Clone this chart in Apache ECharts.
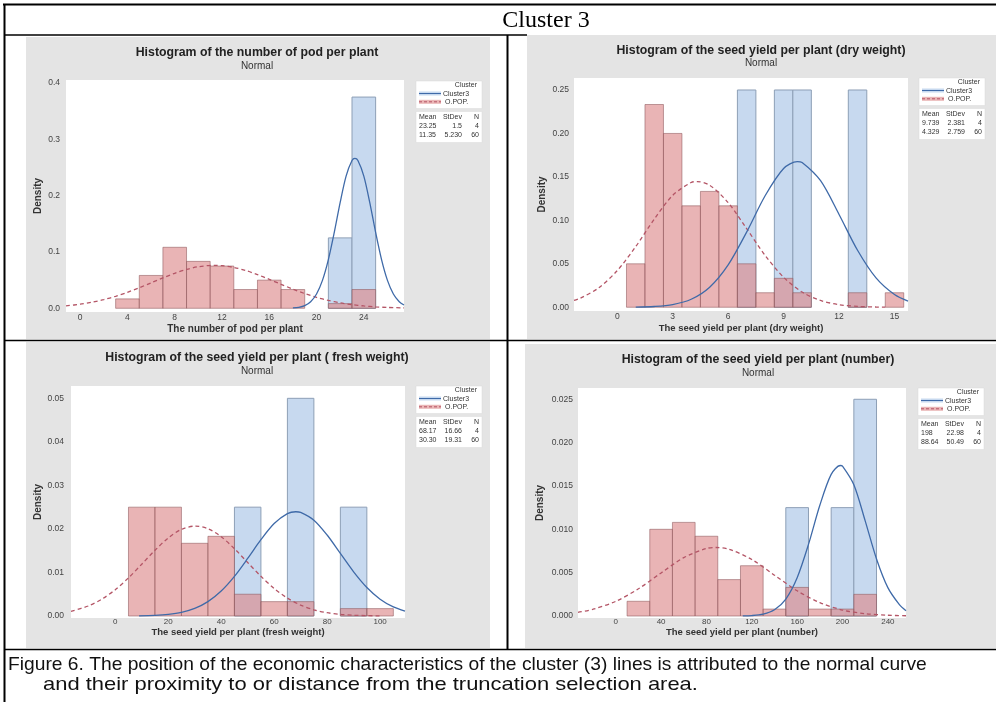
<!DOCTYPE html>
<html><head><meta charset="utf-8">
<script src="https://cdn.jsdelivr.net/npm/echarts@6/dist/echarts.min.js"></script>
<style>html,body{margin:0;padding:0;background:#fff}#c{width:996px;height:702px}</style>
</head><body><div id="c"></div>
<script>
// ---------- Panel 1: number of pod per plant ----------
const podBins = [4, 6, 8, 10, 12, 14, 16, 18, 20, 22, 24];
const podBinWidth = 2;
const podPop = [0.0167, 0.0583, 0.1083, 0.0833, 0.075, 0.0333, 0.05, 0.0333, 0, 0.0083, 0.0333];
const podCluster3 = [0, 0, 0, 0, 0, 0, 0, 0, 0, 0.125, 0.375];
const podPopCurveX = [-1.2, 0, 1, 2, 3, 4, 5, 6, 7, 8, 9, 10, 11.35, 12, 13, 14, 15, 16, 17, 18, 19, 20, 21, 22, 23, 24, 25, 26, 27.4];
const podPopCurveY = [0.0043, 0.0072, 0.0108, 0.0154, 0.0213, 0.0284, 0.0365, 0.0452, 0.054, 0.0621, 0.069, 0.0738, 0.0763, 0.0757, 0.0726, 0.0671, 0.0598, 0.0514, 0.0426, 0.034, 0.0262, 0.0194, 0.0139, 0.0096, 0.0064, 0.0041, 0.0025, 0.0015, 0.0007];
const podC3CurveX = [18, 18.5, 19, 19.5, 20, 20.5, 21, 21.5, 22, 22.5, 23, 23.25, 23.5, 24, 24.5, 25, 25.5, 26, 26.5, 27, 27.4];
const podC3CurveY = [0.0006, 0.0018, 0.0048, 0.0117, 0.0254, 0.0495, 0.0864, 0.1347, 0.188, 0.2347, 0.2623, 0.266, 0.2623, 0.2347, 0.188, 0.1347, 0.0864, 0.0495, 0.0254, 0.0117, 0.0058];
const podXTicks = [0, 4, 8, 12, 16, 20, 24];
const podYTicks = [0, 0.1, 0.2, 0.3, 0.4];
const podStats = [['23.25', '1.5', '4'], ['11.35', '5.230', '60']];

// ---------- Panel 2: seed yield per plant (dry weight) ----------
const dryBins = [1, 2, 3, 4, 5, 6, 7, 8, 9, 10, 11, 12, 13, 14, 15];
const dryBinWidth = 1;
const dryPop = [0.05, 0.2333, 0.2, 0.1167, 0.1333, 0.1167, 0.05, 0.0167, 0.0333, 0.0167, 0, 0, 0.0167, 0, 0.0167];
const dryCluster3 = [0, 0, 0, 0, 0, 0, 0.25, 0, 0.25, 0.25, 0, 0, 0.25, 0, 0];
const dryPopCurveX = [-2.34, -2, -1, 0, 1, 2, 3, 4, 4.33, 5, 6, 7, 8, 9, 10, 11, 12, 13, 14, 14.5];
const dryPopCurveY = [0.0078, 0.0104, 0.0224, 0.0422, 0.0698, 0.1013, 0.1288, 0.1436, 0.1446, 0.1404, 0.1204, 0.0905, 0.0597, 0.0345, 0.0175, 0.0078, 0.003, 0.001, 0.0003, 0.0002];
const dryC3CurveX = [1, 2, 3, 4, 5, 6, 7, 8, 9, 9.74, 10, 11, 12, 13, 14, 15, 15.73];
const dryC3CurveY = [0.0002, 0.0009, 0.0031, 0.0092, 0.0231, 0.0488, 0.0865, 0.1283, 0.1597, 0.1676, 0.1666, 0.1456, 0.1068, 0.0656, 0.0338, 0.0146, 0.0071];
const dryXTicks = [0, 3, 6, 9, 12, 15];
const dryYTicks = [0, 0.05, 0.10, 0.15, 0.20, 0.25];
const dryStats = [['9.739', '2.381', '4'], ['4.329', '2.759', '60']];

// ---------- Panel 3: seed yield per plant (fresh weight) ----------
const freshBins = [10, 20, 30, 40, 50, 60, 70, 80, 90, 100];
const freshBinWidth = 10;
const freshPop = [0.025, 0.025, 0.0167, 0.0183, 0.005, 0.0033, 0.0033, 0, 0.0017, 0.0017];
const freshCluster3 = [0, 0, 0, 0, 0.025, 0, 0.05, 0, 0.025, 0];
const freshPopCurveX = [-16.7, -10, -5, 0, 5, 10, 15, 20, 25, 30.3, 35, 40, 45, 50, 55, 60, 65, 70, 75, 80, 85, 90, 95, 100];
const freshPopCurveY = [0.00107, 0.00234, 0.00389, 0.00603, 0.00876, 0.01189, 0.01509, 0.01792, 0.0199, 0.02066, 0.02006, 0.01821, 0.01546, 0.01228, 0.00912, 0.00633, 0.00411, 0.0025, 0.00142, 0.00075, 0.00037, 0.00017, 0.00008, 0.00003];
const freshC3CurveX = [9, 15, 20, 25, 30, 35, 40, 45, 50, 55, 60, 65, 68.17, 70, 75, 80, 85, 90, 95, 100, 105, 109.4];
const freshC3CurveY = [0.00004, 0.00015, 0.00037, 0.00083, 0.00174, 0.0033, 0.00573, 0.0091, 0.01321, 0.01752, 0.02123, 0.02352, 0.02395, 0.0238, 0.02202, 0.01861, 0.01438, 0.01015, 0.00655, 0.00386, 0.00208, 0.00112];
const freshXTicks = [0, 20, 40, 60, 80, 100];
const freshYTicks = [0, 0.01, 0.02, 0.03, 0.04, 0.05];
const freshStats = [['68.17', '16.66', '4'], ['30.30', '19.31', '60']];

// ---------- Panel 4: seed yield per plant (number) ----------
const numBins = [20, 40, 60, 80, 100, 120, 140, 160, 180, 200, 220];
const numBinWidth = 20;
const numPop = [0.0017, 0.01, 0.0108, 0.0092, 0.0042, 0.0058, 0.0008, 0.0033, 0.0008, 0.0008, 0.0025];
const numCluster3 = [0, 0, 0, 0, 0, 0, 0, 0.0125, 0, 0.0125, 0.025];
const numPopCurveX = [-33.3, -20, 0, 20, 40, 60, 80, 88.64, 100, 120, 140, 160, 180, 200, 220, 240, 256];
const numPopCurveY = [0.00043, 0.00078, 0.00169, 0.00314, 0.00497, 0.00673, 0.00779, 0.0079, 0.0077, 0.00652, 0.00471, 0.00291, 0.00154, 0.00069, 0.00027, 0.00009, 0.00003];
const numC3CurveX = [112, 120, 130, 140, 150, 160, 170, 180, 190, 198, 200, 210, 220, 230, 240, 250, 256];
const numC3CurveY = [0.00002, 0.00005, 0.00022, 0.00072, 0.00196, 0.00442, 0.00826, 0.01277, 0.01634, 0.01736, 0.01729, 0.01515, 0.01098, 0.00658, 0.00327, 0.00134, 0.0006];
const numXTicks = [0, 40, 80, 120, 160, 200, 240];
const numYTicks = [0, 0.005, 0.010, 0.015, 0.020, 0.025];
const numStats = [['198', '22.98', '4'], ['88.64', '50.49', '60']];

// ---------- Texts ----------
const figureTitle = 'Cluster 3';
const panelTitles = [
  'Histogram of the number of pod per plant',
  'Histogram of the seed yield per plant (dry weight)',
  'Histogram of the seed yield per plant ( fresh weight)',
  'Histogram of the seed yield per plant (number)'
];
const panelSubtitle = 'Normal';
const xTitles = [
  'The number of pod per plant',
  'The seed yield per plant (dry weight)',
  'The seed yield per plant (fresh weight)',
  'The seed yield per plant (number)'
];
const yTitle = 'Density';
const legendTitle = 'Cluster';
const seriesNames = ['Cluster3', 'O.POP.'];
const statsHeader = ['Mean', 'StDev', 'N'];
const captionLines = [
  'Figure 6. The position of the economic characteristics of the cluster (3) lines is attributed to the normal curve',
  'and their proximity to or distance from the truncation selection area.'
];

// ---------- Styles ----------
const FONT = 'Liberation Sans, Arial, sans-serif';
const GREY = '#e4e4e4';
const BLUE_FILL = '#c7d9ef';
const BLUE_EDGE = '#8d9fb6';
const RED_FILL = 'rgba(221,138,140,0.64)';
const RED_EDGE = 'rgba(140,85,90,0.55)';
const BLUE_LINE = '#3f6aa8';
const RED_LINE = '#b45566';

const panels = [
  { bins: podBins, bw: podBinWidth, pop: podPop, c3: podCluster3, popX: podPopCurveX, popY: podPopCurveY, c3X: podC3CurveX, c3Y: podC3CurveY, xt: podXTicks, yt: podYTicks, ydec: 1,
    grid: { left: 66, top: 80, width: 338, height: 232 }, xr: [-1.2, 27.4], yr: [-0.0066, 0.4053],
    xMargin: 1, xNameGap: 12, xNameSize: 10, yMargin: 6, yNameGap: 23 },
  { bins: dryBins, bw: dryBinWidth, pop: dryPop, c3: dryCluster3, popX: dryPopCurveX, popY: dryPopCurveY, c3X: dryC3CurveX, c3Y: dryC3CurveY, xt: dryXTicks, yt: dryYTicks, ydec: 2,
    grid: { left: 574, top: 78, width: 334, height: 233 }, xr: [-2.34, 15.73], yr: [-0.0043, 0.2638],
    xMargin: 1, xNameGap: 12, xNameSize: 9.5, yMargin: 5, yNameGap: 27 },
  { bins: freshBins, bw: freshBinWidth, pop: freshPop, c3: freshCluster3, popX: freshPopCurveX, popY: freshPopCurveY, c3X: freshC3CurveX, c3Y: freshC3CurveY, xt: freshXTicks, yt: freshYTicks, ydec: 2,
    grid: { left: 71, top: 386, width: 334, height: 232 }, xr: [-16.7, 109.4], yr: [-0.00046, 0.05283],
    xMargin: 0, xNameGap: 7, xNameSize: 9.5, yMargin: 7, yNameGap: 27 },
  { bins: numBins, bw: numBinWidth, pop: numPop, c3: numCluster3, popX: numPopCurveX, popY: numPopCurveY, c3X: numC3CurveX, c3Y: numC3CurveY, xt: numXTicks, yt: numYTicks, ydec: 3,
    grid: { left: 578, top: 388, width: 328, height: 230 }, xr: [-33.3, 256], yr: [-0.00023, 0.0263],
    xMargin: 0, xNameGap: 7, xNameSize: 9.5, yMargin: 5, yNameGap: 33 }
];

function histRender(width, fill, stroke) {
  return function (params, api) {
    const x = api.value(0), y = api.value(1);
    if (!y) return null;
    const p0 = api.coord([x - width / 2, y]);
    const p1 = api.coord([x + width / 2, 0]);
    return {
      type: 'rect',
      shape: { x: p0[0], y: p0[1], width: p1[0] - p0[0], height: p1[1] - p0[1] },
      style: { fill: fill, stroke: stroke, lineWidth: 1 }
    };
  };
}

const grids = [], xAxes = [], yAxes = [], series = [];
panels.forEach((p, i) => {
  grids.push(Object.assign({ show: true, backgroundColor: '#fff', borderWidth: 0, containLabel: false }, p.grid));
  xAxes.push({
    type: 'value', gridIndex: i, min: p.xr[0], max: p.xr[1],
    axisLine: { show: false }, axisTick: { show: false }, splitLine: { show: false },
    axisLabel: { customValues: p.xt, formatter: v => String(v), fontSize: i < 2 ? 8.5 : 8, color: '#444', fontFamily: FONT, margin: p.xMargin },
    name: xTitles[i], nameLocation: 'middle', nameGap: p.xNameGap,
    nameTextStyle: { fontSize: p.xNameSize, fontWeight: 'bold', color: '#333', fontFamily: FONT }
  });
  yAxes.push({
    type: 'value', gridIndex: i, min: p.yr[0], max: p.yr[1],
    axisLine: { show: false }, axisTick: { show: false }, splitLine: { show: false },
    axisLabel: { customValues: p.yt, formatter: v => Number(v).toFixed(p.ydec), fontSize: 8.5, color: '#444', fontFamily: FONT, margin: p.yMargin },
    name: yTitle, nameLocation: 'middle', nameGap: p.yNameGap,
    nameTextStyle: { fontSize: 10, fontWeight: 'bold', color: '#333', fontFamily: FONT }
  });
  series.push({
    type: 'custom', name: seriesNames[0], xAxisIndex: i, yAxisIndex: i, z: 2, silent: true,
    renderItem: histRender(p.bw, BLUE_FILL, BLUE_EDGE), encode: { x: 0, y: 1 },
    data: p.bins.map((c, k) => [c, p.c3[k]])
  });
  series.push({
    type: 'custom', name: seriesNames[1], xAxisIndex: i, yAxisIndex: i, z: 3, silent: true,
    renderItem: histRender(p.bw, RED_FILL, RED_EDGE), encode: { x: 0, y: 1 },
    data: p.bins.map((c, k) => [c, p.pop[k]])
  });
  series.push({
    type: 'line', xAxisIndex: i, yAxisIndex: i, z: 4, silent: true, smooth: 0.3, showSymbol: false, symbol: 'none',
    lineStyle: { color: RED_LINE, width: 1.3, type: [4, 3] },
    data: p.popX.map((x, k) => [x, p.popY[k]])
  });
  series.push({
    type: 'line', xAxisIndex: i, yAxisIndex: i, z: 5, silent: true, smooth: 0.3, showSymbol: false, symbol: 'none',
    lineStyle: { color: BLUE_LINE, width: 1.3 },
    data: p.c3X.map((x, k) => [x, p.c3Y[k]])
  });
});

// ---------- Graphic: page frame, panel backgrounds, titles, legends, caption ----------
const g = [];
function txt(s, x, y, o, extra) {
  g.push(Object.assign({ type: 'text', x: x, y: y, z: 100, silent: true,
    style: Object.assign({ text: s, fill: '#333', fontFamily: FONT, fontSize: 10, align: 'center', verticalAlign: 'middle' }, o || {}) }, extra || {}));
}
function rect(x, y, w, h, style, z) { g.push({ type: 'rect', shape: { x: x, y: y, width: w, height: h }, style: style, z: z, silent: true }); }
function line(x1, y1, x2, y2, style, z) { g.push({ type: 'line', shape: { x1: x1, y1: y1, x2: x2, y2: y2 }, style: style, z: z, silent: true }); }

rect(0, 0, 996, 702, { fill: '#fff' }, -300);
// panel backgrounds
rect(26, 37, 464, 302, { fill: GREY }, -200);
rect(527, 35, 469, 304, { fill: GREY }, -200);
rect(26, 342, 464, 306, { fill: GREY }, -200);
rect(525, 344, 471, 304, { fill: GREY }, -200);
// table lines
const LS = { stroke: '#000', lineWidth: 2 };
line(3, 4.5, 996, 4.5, LS, 90);
line(4.5, 4, 4.5, 702, LS, 90);
line(4, 35, 527, 35, { stroke: '#000', lineWidth: 1.5 }, 90);
line(507.5, 35, 507.5, 650, LS, 90);
line(4, 340.5, 996, 340.5, { stroke: '#000', lineWidth: 1.5 }, 90);
line(4, 649.5, 996, 649.5, { stroke: '#000', lineWidth: 1.5 }, 90);

txt(figureTitle, 546, 21, { fontFamily: 'Liberation Serif, Times New Roman, serif', fontSize: 24, fill: '#000' });

const titlePos = [[257, 53, 66], [761, 51, 63], [257, 358, 371], [758, 360, 373]];
titlePos.forEach((t, i) => {
  txt(panelTitles[i], t[0], t[1], { fontSize: 12.3, fontWeight: 'bold', fill: '#222' });
  txt(panelSubtitle, t[0], t[2], { fontSize: 10, fill: '#333' });
});

function legend(x0, y0, stats) {
  const w = 66;
  rect(x0, y0, w, 27.5, { fill: '#fff', stroke: '#dadada', lineWidth: 0.5 }, 100);
  const small = { fontSize: 7, fill: '#333' };
  txt(legendTitle, x0 + w - 5, y0 + 4.2, Object.assign({ align: 'right' }, small));
  rect(x0 + 3, y0 + 10.5, 22, 4, { fill: BLUE_FILL }, 101);
  line(x0 + 3, y0 + 12.5, x0 + 25, y0 + 12.5, { stroke: BLUE_LINE, lineWidth: 1 }, 102);
  txt(seriesNames[0], x0 + 27, y0 + 12.7, Object.assign({ align: 'left' }, small));
  rect(x0 + 3, y0 + 18.8, 22, 4, { fill: '#eab6b6' }, 101);
  line(x0 + 3, y0 + 20.8, x0 + 25, y0 + 20.8, { stroke: RED_LINE, lineWidth: 1, lineDash: [3, 2] }, 102);
  txt(seriesNames[1], x0 + 29, y0 + 21, Object.assign({ align: 'left' }, small));
  const y2 = y0 + 30.5;
  rect(x0, y2, w, 31, { fill: '#fff', stroke: '#dadada', lineWidth: 0.5 }, 100);
  const cols = [[x0 + 3, 'left'], [x0 + 46, 'right'], [x0 + 63, 'right']];
  statsHeader.forEach((h, k) => txt(h, cols[k][0], y2 + 5.5, Object.assign({ align: cols[k][1] }, small)));
  stats.forEach((row, r) => row.forEach((v, k) => txt(v, cols[k][0], y2 + 14.5 + r * 9, Object.assign({ align: cols[k][1] }, small))));
}
legend(416, 81, podStats);
legend(919, 78, dryStats);
legend(416, 386, freshStats);
legend(918, 388, numStats);

txt(captionLines[0], 8, 665, { align: 'left', fontSize: 18.5, fill: '#111' }, { scaleX: 1.039 });
txt(captionLines[1], 43, 685, { align: 'left', fontSize: 18.5, fill: '#111' }, { scaleX: 1.186 });

const chart = echarts.init(document.getElementById('c'), null, { renderer: 'canvas' });
chart.setOption({
  animation: false,
  backgroundColor: '#fff',
  grid: grids, xAxis: xAxes, yAxis: yAxes, series: series,
  graphic: { elements: g }
});
</script>
</body></html>
